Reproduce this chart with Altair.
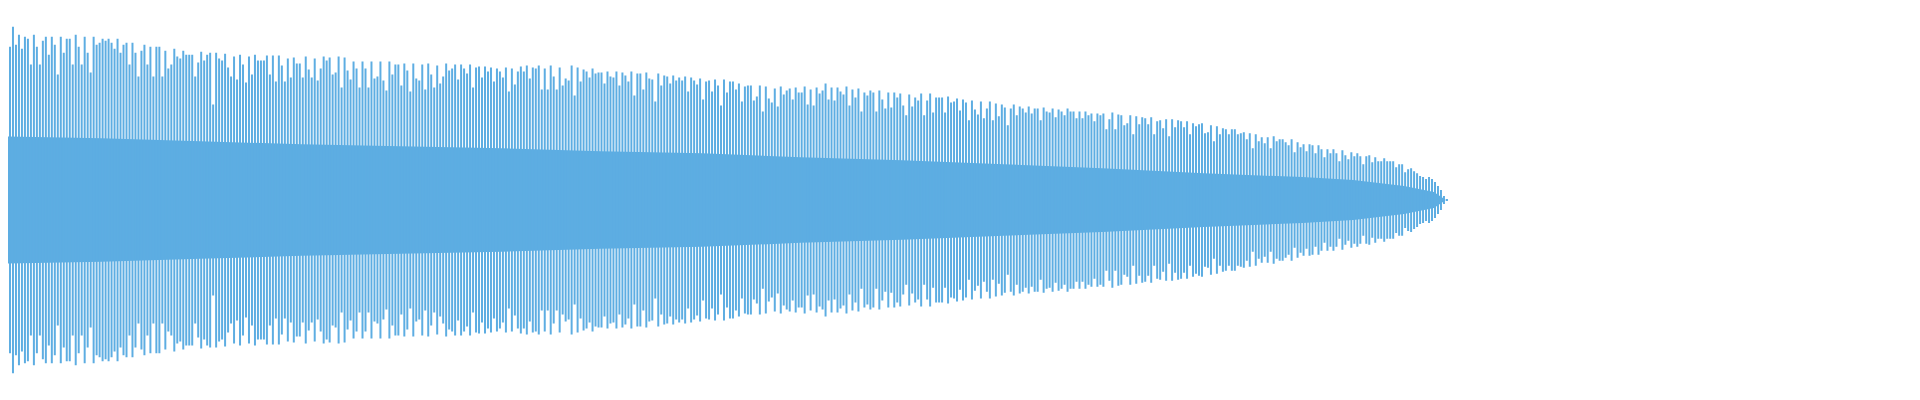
import altair as alt
import pandas as pd

# Peak amplitude of each waveform column (1.0 = half the plot height), read left to right
seg1 = [0.64,0.91,0.81,0.77,0.87,0.78,0.83,0.76,0.82,0.81,
        0.68,0.83,0.77,0.68,0.80,0.82,0.73,0.82,0.78,0.63,
        0.82,0.74,0.81,0.81,0.68,0.83,0.77,0.68,0.82,0.74,
        0.64,0.82,0.78,0.79,0.81,0.80,0.81,0.79,0.76,0.81,
        0.74,0.78,0.79,0.68,0.79,0.74,0.62,0.75,0.78,0.68,
        0.77,0.62,0.77,0.77,0.62,0.75,0.66,0.68,0.76,0.72,
        0.71,0.75,0.73,0.73,0.73,0.62,0.69]
seg2 = [0.745,0.70,0.73,0.74,0.48,0.74,0.71,0.70,0.735,0.665,
        0.62,0.72,0.605,0.73,0.68,0.59,0.72,0.63,0.73,0.70,
        0.70,0.70,0.725,0.63,0.725,0.595,0.725,0.675,0.595,0.71,
        0.615,0.715,0.685,0.685,0.615,0.72,0.655,0.615,0.71,0.60,
        0.66,0.72,0.70,0.715,0.63,0.64,0.72,0.565,0.715,0.65,
        0.605,0.695,0.66,0.565,0.695,0.66,0.565,0.695,0.61,0.62,
        0.695,0.60]
seg3 = [0.55,0.695,0.63,0.68,0.68,0.575,0.685,0.65,0.545,0.685,
        0.61,0.60,0.68,0.555,0.685,0.63,0.565,0.675,0.585,0.62,
        0.685,0.65,0.66,0.68,0.605,0.68,0.66,0.635,0.68,0.565,
        0.665,0.67,0.615,0.67,0.645,0.665,0.595,0.66,0.645,0.615,
        0.665,0.545,0.66,0.58,0.645,0.67,0.645,0.675,0.61,0.665,
        0.66,0.675,0.555,0.66,0.555,0.675,0.62,0.555,0.665,0.575,
        0.61,0.60]
seg4 = [0.675,0.525,0.665,0.595,0.655,0.645,0.615,0.66,0.635,0.64,
        0.64,0.585,0.645,0.62,0.615,0.645,0.575,0.64,0.625,0.595,
        0.645,0.525,0.635,0.635,0.555,0.64,0.61,0.605,0.495,0.635,
        0.575,0.625,0.62,0.585,0.625,0.60,0.615,0.60,0.62,0.545,
        0.615,0.60,0.58,0.61,0.505,0.595,0.60,0.545,0.605,0.575,
        0.475,0.605,0.54,0.595,0.595,0.555,0.585,0.495,0.57,0.575,
        0.575,0.50]
seg5 = [0.52,0.575,0.445,0.57,0.51,0.49,0.56,0.47,0.57,0.53,
        0.55,0.56,0.505,0.565,0.54,0.54,0.57,0.48,0.555,0.475,
        0.565,0.535,0.55,0.585,0.505,0.565,0.50,0.565,0.545,0.53,
        0.57,0.475,0.555,0.515,0.56,0.445,0.54,0.525,0.55,0.54,
        0.445,0.55,0.505,0.46,0.54,0.465,0.54,0.515,0.535,0.475,
        0.425,0.53,0.47,0.515,0.50,0.535,0.425,0.50,0.535,0.44,
        0.515,0.515]
seg6 = [0.515,0.44,0.52,0.49,0.495,0.51,0.45,0.505,0.49,0.40,
        0.50,0.455,0.43,0.495,0.41,0.46,0.495,0.40,0.485,0.42,
        0.48,0.465,0.375,0.46,0.48,0.425,0.47,0.46,0.44,0.47,
        0.435,0.46,0.46,0.40,0.465,0.445,0.44,0.46,0.415,0.455,
        0.445,0.425,0.46,0.445,0.445,0.41,0.445,0.41,0.445,0.425,
        0.435,0.395,0.435,0.425,0.435,0.355,0.405,0.44,0.355,0.43,
        0.425,0.375]
seg7 = [0.385,0.425,0.33,0.42,0.38,0.415,0.41,0.38,0.415,0.33,
        0.395,0.40,0.36,0.405,0.32,0.405,0.365,0.40,0.395,0.365,
        0.395,0.33,0.385,0.37,0.38,0.385,0.335,0.34,0.375,0.295,
        0.37,0.33,0.36,0.355,0.33,0.355,0.355,0.33,0.335,0.34,
        0.305,0.335,0.26,0.33,0.295,0.315,0.285,0.315,0.26,0.32,
        0.295,0.305,0.305,0.29,0.275,0.305,0.24,0.29,0.265,0.28,
        0.245,0.28]
seg8 = [0.275,0.235,0.275,0.255,0.215,0.255,0.235,0.255,0.235,0.195,
        0.25,0.225,0.205,0.24,0.22,0.235,0.22,0.18,0.22,0.225,
        0.19,0.215,0.195,0.195,0.21,0.195,0.195,0.195,0.165,0.18,
        0.18,0.14,0.155,0.16,0.145,0.135,0.12,0.115,0.105,0.115,
        0.105,0.09,0.07,0.05,0.02,0.005]

# Solid inner band (where the columns merge), sampled along the column index
core_idx = [0, 34, 67, 101, 134, 168, 201, 235, 268, 302, 336, 369, 403, 436, 453, 470, 480, 484]
core_amp = [0.32, 0.31, 0.295, 0.28, 0.27, 0.26, 0.245, 0.235, 0.215, 0.2, 0.18, 0.16, 0.135, 0.115, 0.1, 0.07, 0.04, 0.0]

peaks = seg1 + seg2 + seg3 + seg4 + seg5 + seg6 + seg7 + seg8
bars = pd.DataFrame({"i": list(range(len(peaks))), "amp": peaks})
core = pd.DataFrame({"i": core_idx, "amp": core_amp})

COLOR = "#5dade2"
# 3 px per column, aligned to whole pixels
xscale = alt.Scale(domain=[8 / 3, 8 / 3 + 1912 / 3], nice=False, zero=False)
yscale = alt.Scale(domain=[-1.0, 0.96], nice=False, zero=False)

core_layer = alt.Chart(core).transform_calculate(
    neg="-datum.amp"
).mark_area(color=COLOR, opacity=1, clip=True).encode(
    x=alt.X("i:Q", scale=xscale, axis=None),
    y=alt.Y("amp:Q", scale=yscale, axis=None),
    y2="neg:Q",
)

bar_layer = alt.Chart(bars).transform_calculate(
    i2="datum.i + 2/3", neg="-datum.amp"
).mark_rect(color=COLOR, clip=True, strokeWidth=0).encode(
    x=alt.X("i:Q", scale=xscale, axis=None),
    x2="i2:Q",
    y=alt.Y("amp:Q", scale=yscale, axis=None),
    y2="neg:Q",
)

chart = alt.layer(core_layer, bar_layer).properties(
    width=1912, height=392, padding=0, autosize="none"
).configure_view(stroke=None)

chart.save("out.html", embed_options={"renderer": "svg", "actions": False})
